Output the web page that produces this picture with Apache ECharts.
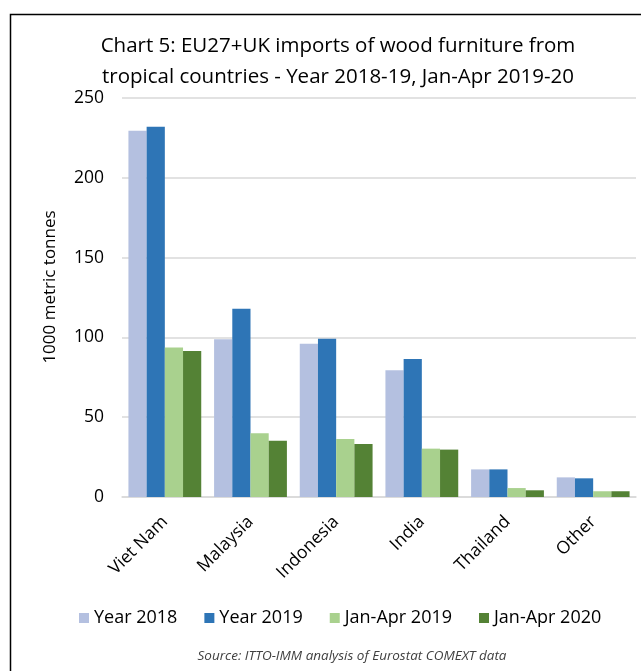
<!DOCTYPE html>
<html>
<head>
<meta charset="utf-8">
<script src="https://cdn.jsdelivr.net/npm/echarts@6/dist/echarts.min.js"></script>
<style>
  html, body { margin: 0; padding: 0; background: #fff; }
  #chart { width: 641px; height: 671px; }
</style>
</head>
<body>
<div id="chart"></div>
<script>
  // categories and series values (1000 metric tonnes)
  var countries = ['Viet Nam', 'Malaysia', 'Indonesia', 'India', 'Thailand', 'Other'];
  var year2018 = [229.5, 98.8, 96.0, 79.4, 17.3, 12.3];
  var year2019 = [232.0, 118.0, 99.2, 86.5, 17.3, 11.7];
  var janApr2019 = [93.6, 39.9, 36.3, 30.3, 5.6, 3.6];
  var janApr2020 = [91.5, 35.3, 33.2, 29.7, 4.2, 3.6];
  var seriesNames = ['Year 2018', 'Year 2019', 'Jan-Apr 2019', 'Jan-Apr 2020'];
  var seriesColors = ['#b4c0e0', '#2e75b6', '#a9d18e', '#548235'];

  var font = '"Open Sans", sans-serif';
  var chart = echarts.init(document.getElementById('chart'));

  var data = [year2018, year2019, janApr2019, janApr2020];
  var series = data.map(function (vals, i) {
    return {
      name: seriesNames[i],
      type: 'bar',
      data: vals,
      barGap: '0%',
      barCategoryGap: '15%',
      itemStyle: { color: seriesColors[i] },
      emphasis: { disabled: true }
    };
  });

  chart.setOption({
    animation: false,
    textStyle: { fontFamily: font },
    title: {
      text: 'Chart 5: EU27+UK imports of wood furniture from\ntropical countries - Year 2018-19, Jan-Apr 2019-20',
      left: 333,
      textAlign: 'center',
      top: 26,
      textStyle: { fontSize: 20.5, fontWeight: 'normal', color: '#000', lineHeight: 31, fontFamily: font }
    },
    graphic: [{
      type: 'rect',
      shape: { x: 10.5, y: 14.5, width: 700, height: 700 },
      style: { fill: 'none', stroke: '#000', lineWidth: 1.5 },
      silent: true
    }, {
      type: 'text',
      x: 50,
      y: 287,
      rotation: Math.PI / 2,
      style: {
        text: '1000 metric tonnes',
        font: '17px ' + font,
        fill: '#000',
        align: 'center',
        verticalAlign: 'middle'
      },
      silent: true
    }, {
      type: 'text',
      x: 352,
      y: 656,
      style: {
        text: 'Source: ITTO-IMM analysis of Eurostat COMEXT data',
        font: 'italic 13.5px ' + font,
        fill: '#404040',
        align: 'center',
        verticalAlign: 'middle'
      },
      silent: true
    }],
    legend: {
      data: seriesNames,
      top: 604,
      left: 74,
      itemWidth: 10,
      itemHeight: 10,
      itemGap: 27,
      icon: 'rect',
      textStyle: { fontSize: 18, color: '#000', fontFamily: font }
    },
    grid: { left: 122, right: 5, top: 98, bottom: 174 },
    xAxis: {
      type: 'category',
      data: countries,
      axisLine: { lineStyle: { color: '#d9d9d9', width: 1.5 } },
      axisTick: { show: false },
      axisLabel: { rotate: 45, fontSize: 17.5, color: '#000', margin: 22, fontFamily: font }
    },
    yAxis: {
      type: 'value',
      min: 0,
      max: 250,
      interval: 50,
      axisLine: { show: false },
      axisTick: { show: false },
      splitLine: { lineStyle: { color: '#d9d9d9', width: 1.5 } },
      axisLabel: { fontSize: 17.5, color: '#000', margin: 18, fontFamily: font }
    },
    series: series
  });
</script>
</body>
</html>
